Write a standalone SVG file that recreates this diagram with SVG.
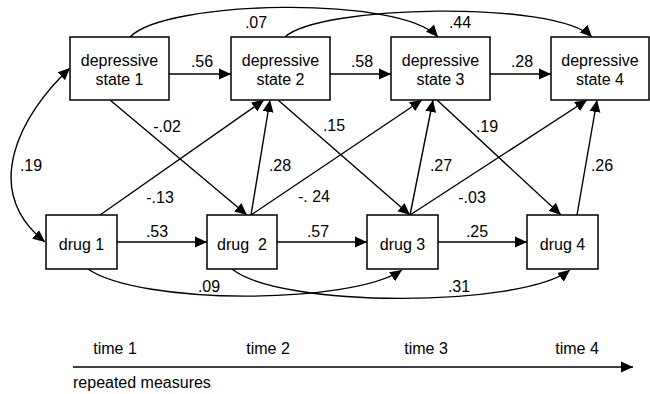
<svg xmlns="http://www.w3.org/2000/svg" width="650" height="394" viewBox="0 0 650 394">
<style>
text{font-family:"Liberation Sans",Arial,sans-serif;font-size:16px;fill:#000;text-anchor:middle}
.box{fill:#fff;stroke:#000;stroke-width:1.5}
.c{fill:none;stroke:#000;stroke-width:1.4}
</style>
<defs>
<marker id="ah" markerUnits="userSpaceOnUse" markerWidth="13" markerHeight="12" refX="12" refY="5.5" orient="auto-start-reverse" viewBox="0 0 13 11">
<path d="M0,0 L12,5.5 L0,11 z" fill="#000"/>
</marker>
</defs>
<rect width="650" height="394" fill="#fff"/>
<g id="connectors" class="c">
<path class="c" d="M169,74 L231,74" marker-end="url(#ah)"/>
<path class="c" d="M330,74 L391,74" marker-end="url(#ah)"/>
<path class="c" d="M490,74 L551,74" marker-end="url(#ah)"/>
<path class="c" d="M117,242 L207,242" marker-end="url(#ah)"/>
<path class="c" d="M277,242 L367,242" marker-end="url(#ah)"/>
<path class="c" d="M438,242 L527,242" marker-end="url(#ah)"/>
<path class="c" d="M110,100 L247,215" marker-end="url(#ah)"/>
<path class="c" d="M100,215 L264,100" marker-end="url(#ah)"/>
<path class="c" d="M251,215 L270,100" marker-end="url(#ah)"/>
<path class="c" d="M251,215 L422,100" marker-end="url(#ah)"/>
<path class="c" d="M278,100 L410,215" marker-end="url(#ah)"/>
<path class="c" d="M410,215 L433,100" marker-end="url(#ah)"/>
<path class="c" d="M410,215 L587,100" marker-end="url(#ah)"/>
<path class="c" d="M437,100 L561,215" marker-end="url(#ah)"/>
<path class="c" d="M577,215 L597,100" marker-end="url(#ah)"/>
<path class="c" d="M130,37 C165,0 400,-5 438,37" marker-end="url(#ah)"/>
<path class="c" d="M285,37 C320,5 555,0 592,37" marker-end="url(#ah)"/>
<path class="c" d="M88,269 C140,305 350,305 402,270" marker-end="url(#ah)"/>
<path class="c" d="M232,269 C280,308 520,308 570,270" marker-end="url(#ah)"/>
<path class="c" d="M70,68 C20,115 -20,190 45,242" marker-start="url(#ah)" marker-end="url(#ah)"/>
<path class="c" d="M73,367 L633,367" stroke-width="1.6" marker-end="url(#ah)"/>
</g>
<g id="ds1"><rect class="box" x="70" y="37" width="99" height="63"/><text x="119.5" y="66">depressive</text><text x="119.5" y="84.5">state 1</text></g>
<g id="ds2"><rect class="box" x="231" y="37" width="99" height="63"/><text x="280.5" y="66">depressive</text><text x="280.5" y="84.5">state 2</text></g>
<g id="ds3"><rect class="box" x="391" y="37" width="99" height="63"/><text x="440.5" y="66">depressive</text><text x="440.5" y="84.5">state 3</text></g>
<g id="ds4"><rect class="box" x="551" y="37" width="98" height="63"/><text x="600" y="66">depressive</text><text x="600" y="84.5">state 4</text></g>
<g id="drug1"><rect class="box" x="46" y="215" width="71" height="54"/><text x="81.5" y="250">drug 1</text></g>
<g id="drug2"><rect class="box" x="207" y="215" width="70" height="54"/><text x="242" y="250" xml:space="preserve">drug  2</text></g>
<g id="drug3"><rect class="box" x="367" y="215" width="71" height="54"/><text x="402.5" y="250">drug 3</text></g>
<g id="drug4"><rect class="box" x="527" y="215" width="71" height="54"/><text x="562.5" y="250">drug 4</text></g>
<g id="labels">
<text x="256" y="28">.07</text>
<text x="460" y="28">.44</text>
<text x="202" y="67">.56</text>
<text x="362" y="67">.58</text>
<text x="522" y="67">.28</text>
<text x="167" y="132">-.02</text>
<text x="334" y="131">.15</text>
<text x="487" y="132">.19</text>
<text x="31" y="171">.19</text>
<text x="280" y="170.5">.28</text>
<text x="441" y="170.5">.27</text>
<text x="602" y="170.5">.26</text>
<text x="160" y="203">-.13</text>
<text x="314" y="202" xml:space="preserve">-. 24</text>
<text x="472" y="203">-.03</text>
<text x="157" y="236.5">.53</text>
<text x="318" y="236.5">.57</text>
<text x="477" y="236.5">.25</text>
<text x="209" y="292">.09</text>
<text x="459" y="292">.31</text>
</g>
<g id="timeline">
<text x="115" y="354">time 1</text>
<text x="268" y="354">time 2</text>
<text x="426" y="354">time 3</text>
<text x="577" y="354">time 4</text>
<text x="73" y="388" style="text-anchor:start">repeated measures</text>
</g>
</svg>
